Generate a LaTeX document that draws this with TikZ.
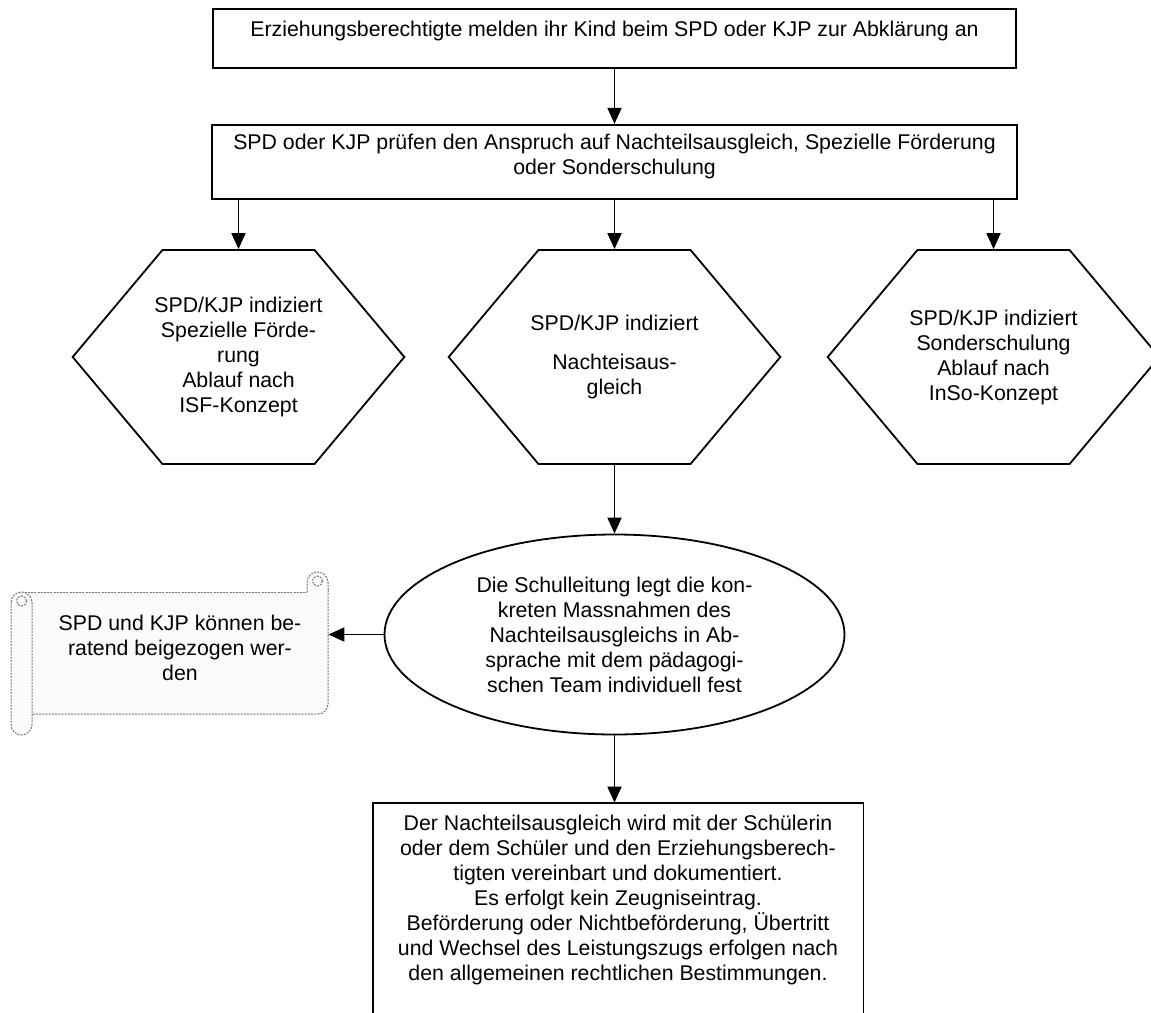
\documentclass[tikz,border=0pt]{standalone}
\usepackage{fontspec}
\setmainfont{Liberation Sans}
\usetikzlibrary{positioning, arrows.meta, shapes.geometric, shapes.symbols}

\begin{document}
\begin{tikzpicture}[
  x=0.5pt, y=-0.5pt,
  font=\fontsize{10.65}{12.5}\selectfont,
  box/.style={draw, rectangle, line width=0.9pt, align=center, inner sep=0pt},
  hexa/.style={draw, signal, signal to=east and west, signal pointer angle=100,
    line width=0.9pt, minimum height=107pt, align=center,
    inner xsep=-4pt, inner ysep=0pt},
  oval/.style={draw, ellipse, line width=0.9pt, minimum width=230pt,
    minimum height=100pt, align=center, inner sep=0pt},
  scroll/.style={draw=black!55, dash pattern=on 1pt off 0.6pt, line width=0.5pt},
  arrow/.style={-{Triangle[length=8pt, width=7pt]}, line width=0.9pt}
]
\useasboundingbox (0,0) rectangle (1151,1012);

% Anmeldung
\node[box, minimum width=401.5pt, minimum height=29.5pt, text depth=10pt] (anmeldung) at (614.5,38.5)
  {Erziehungsberechtigte melden ihr Kind beim SPD oder KJP zur Abklärung an};

% Abklaerung durch SPD/KJP
\node[box, minimum width=402.5pt, minimum height=37pt, text depth=8pt, below=27.5pt of anmeldung] (pruefung)
  {SPD oder KJP prüfen den Anspruch auf Nachteilsausgleich, Spezielle Förderung\\
   oder Sonderschulung};

% Drei Wege
\node[hexa] (foerderung) at (238.5,357)
  {SPD/KJP indiziert\\Spezielle Förde-\\rung\\Ablauf nach\\ISF-Konzept};
\node[hexa] (ausgleich) at (614.5,357)
  {SPD/KJP indiziert\\[7pt]Nachteisaus-\\gleich};
\node[hexa] (sonderschulung) at (993.5,357)
  {SPD/KJP indiziert\\Sonderschulung\\Ablauf nach\\InSo-Konzept};

% Schulleitung
\node[oval] (schulleitung) at (614.5,634.5)
  {Die Schulleitung legt die kon-\\kreten Massnahmen des\\Nachteilsausgleichs in Ab-\\
   sprache mit dem pädagogi-\\schen Team individuell fest};

% Beratung (Schriftrolle)
\fill[gray!3] (21.5,592) rectangle (328,714);
\draw[scroll] (21.5,592) -- (307,592);
\draw[scroll, rounded corners=5pt] (328,590) |- (32,714);
\draw[scroll, fill=gray!3, rounded corners=5.25pt] (11,592) rectangle (32,735);
\draw[scroll, fill=gray!3, rounded corners=5.25pt] (307,592) |- (328,572) -- (328,592);
\draw[scroll] (21.5,601) circle[radius=2.5pt];
\draw[scroll] (317.5,581) circle[radius=2.5pt];
\node[align=center, minimum width=148pt] (beratung) at (180,648)
  {SPD und KJP können be-\\ratend beigezogen wer-\\den};

% Vereinbarung
\node[align=center, minimum width=245pt, minimum height=97pt, inner sep=0pt] (vereinbarung) at (618,900)
  {Der Nachteilsausgleich wird mit der Schülerin\\oder dem Schüler und den Erziehungsberech-\\
   tigten vereinbart und dokumentiert.\\Es erfolgt kein Zeugniseintrag.\\
   Beförderung oder Nichtbeförderung, Übertritt\\und Wechsel des Leistungszugs erfolgen nach\\
   den allgemeinen rechtlichen Bestimmungen.};
\draw[line width=0.9pt] ([yshift=-20pt]vereinbarung.south west) -- (vereinbarung.north west)
  -- (vereinbarung.north east) -- ([yshift=-20pt]vereinbarung.south east);

% Pfeile
\draw[arrow] (anmeldung.south) -- (pruefung.north);
\draw[arrow] (foerderung.north |- pruefung.south) -- (foerderung.north);
\draw[arrow] (ausgleich.north |- pruefung.south) -- (ausgleich.north);
\draw[arrow] (sonderschulung.north |- pruefung.south) -- (sonderschulung.north);
\draw[arrow] (ausgleich.south) -- (schulleitung.north);
\draw[arrow] (schulleitung.west) -- (schulleitung.west -| beratung.east);
\draw[arrow] (schulleitung.south) -- (schulleitung.south |- vereinbarung.north);

\end{tikzpicture}
\end{document}
